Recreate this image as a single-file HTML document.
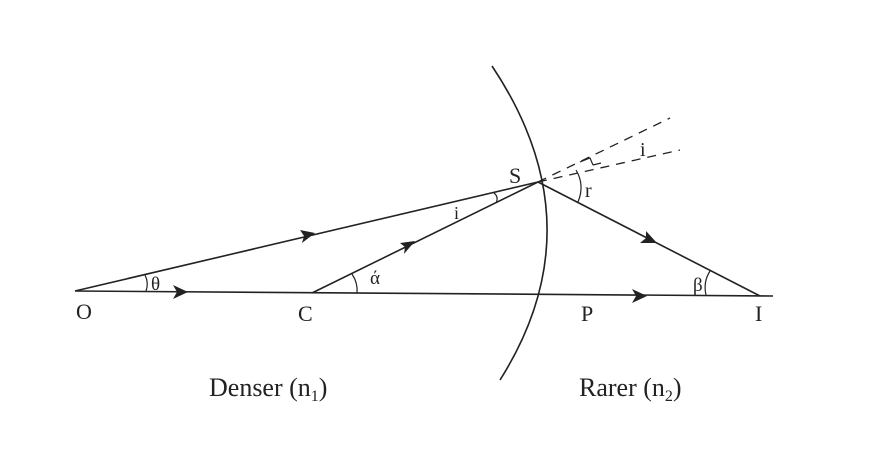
<!DOCTYPE html>
<html><head><style>html,body{margin:0;padding:0;background:#fff}svg{display:block}text{font-family:"Liberation Serif",serif;fill:#222}</style></head>
<body>
<svg width="875" height="451" viewBox="0 0 875 451" xmlns="http://www.w3.org/2000/svg">
<g stroke="#222" stroke-width="1.6" fill="none">
<line x1="75" y1="291" x2="773" y2="296"/>
<line x1="75" y1="291" x2="538" y2="182"/>
<line x1="312" y1="293" x2="538" y2="182"/>
<line x1="538" y1="182" x2="760" y2="296"/>
<path d="M492,66 Q598,225 500,380"/>
<line x1="538" y1="182" x2="670" y2="118" stroke-dasharray="9,7" stroke-width="1.3"/>
<line x1="538" y1="182" x2="680" y2="150" stroke-dasharray="9,7" stroke-width="1.3"/>
<path d="M145,275 Q149,283 146,291" stroke-width="1.2"/>
<path d="M352,274 Q358,283 357,293" stroke-width="1.2"/>
<path d="M710,271 Q703,282 706,295" stroke-width="1.2"/>
<path d="M576,170 Q585,185 578,202" stroke-width="1.2"/>
<path d="M494,193 Q499,197 496,203" stroke-width="1.2"/>
<path d="M580,162 L590,158 L593,165 M593,165 L601,163" stroke-width="1.2"/>
</g>
<g fill="#222">
<polygon points="188,292 173,285 177,292 173,299"/>
<polygon points="315,233 300,230 304,236 302,243"/>
<polygon points="415,241 400,243 405,247 404,254"/>
<polygon points="647,296 632,289 636,296 632,303"/>
<polygon points="657,243 646,231 646,238 640,243"/>
</g>
<g font-size="22">
<text x="76" y="319">O</text>
<text x="298" y="321">C</text>
<text x="581" y="321">P</text>
<text x="755" y="321">I</text>
<text x="509" y="183">S</text>
<text x="585" y="197" font-size="20">r</text>
<text x="640" y="156" font-size="20">i</text>
<text x="454" y="219" font-size="18">i</text>
<text x="370" y="284" font-size="19">ά</text>
<text x="151" y="290" font-size="19">θ</text>
<text x="693" y="291" font-size="19">β</text>
<text x="209" y="396" font-size="26">Denser (n<tspan font-size="16" dy="5">1</tspan><tspan dy="-5">)</tspan></text>
<text x="579" y="396" font-size="26">Rarer (n<tspan font-size="16" dy="5">2</tspan><tspan dy="-5">)</tspan></text>
</g>
</svg>
</body></html>
